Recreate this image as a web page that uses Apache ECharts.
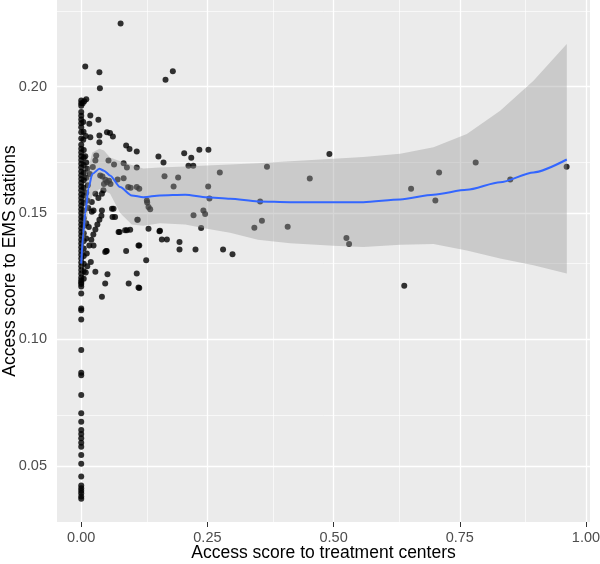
<!DOCTYPE html>
<html><head><meta charset="utf-8">
<script src="https://cdn.jsdelivr.net/npm/echarts@6/dist/echarts.min.js"></script>
<style>html,body{margin:0;padding:0;background:#fff}#c{width:600px;height:564px}</style>
</head><body><div id="c"></div>
<script>
const xTicks = [0, 0.25, 0.5, 0.75, 1.0];
const xMinor = [0.125, 0.375, 0.625, 0.875];
const yTicks = [0.05, 0.10, 0.15, 0.20];
const yMinor = [0.075, 0.125, 0.175, 0.225];

// x = access score to treatment centers, y = access score to EMS stations
const scatterPoints = [
  [0.078,0.225],[0.008,0.208],[0.036,0.2057],[0.037,0.1994],[0.1815,0.2061],[0.167,0.2028],
  [0.003,0.1935],[0.006,0.1942],[0.010,0.1950],
  [0.018,0.1886],[0.034,0.1869],[0.016,0.1853],[0.0046,0.1822],[0.018,0.180],[0.036,0.1807],
  [0.051,0.182],[0.057,0.1817],[0.0627,0.1803],[0.036,0.178],[0.089,0.1767],[0.0957,0.1754],
  [0.110,0.1744],[0.153,0.1724],[0.163,0.170],[0.204,0.1737],[0.218,0.1719],[0.234,0.1751],
  [0.252,0.1751],[0.2125,0.1687],[0.222,0.1687],[0.110,0.168],
  [0.165,0.1646],[0.192,0.1641],[0.2746,0.1661],[0.115,0.1596],[0.183,0.1605],[0.2515,0.1605],
  [0.1307,0.1542],[0.1333,0.1524],[0.1366,0.1515],[0.254,0.1558],[0.242,0.151],[0.2455,0.1496],
  [0.2225,0.1491],[0.112,0.1474],[0.358,0.147],[0.343,0.1442],[0.1333,0.1438],[0.155,0.1428],
  [0.2376,0.1441],[0.1597,0.1396],[0.1697,0.1396],[0.1947,0.1386],[0.1947,0.1356],[0.2264,0.1356],
  [0.281,0.1356],[0.2997,0.1337],[0.115,0.1372],[0.1287,0.1313],[0.115,0.1204],
  [0.368,0.1683],[0.3545,0.1546],[0.409,0.1446],[0.4917,0.1734],[0.4528,0.1637],[0.5254,0.1401],
  [0.5307,0.1378],[0.6535,0.1596],[0.709,0.1661],[0.7016,0.155],[0.7815,0.170],[0.850,0.1633],
  [0.9617,0.1683],[0.640,0.1213],
  [0.054,0.1708],[0.065,0.1692],[0.084,0.1697],[0.0905,0.168],[0.0297,0.1728],[0.028,0.1708],
  [0.023,0.1682],[0.0376,0.1649],[0.051,0.1622],[0.045,0.1615],[0.048,0.1632],[0.072,0.1633],
  [0.084,0.1638],[0.098,0.160],[0.130,0.155],[0.111,0.1474],[0.028,0.1577],[0.064,0.1517],
  [0.062,0.1485],[0.067,0.1485],[0.076,0.1425],[0.0905,0.1432],[0.097,0.1434],[0.156,0.143],
  [0.0475,0.1346],[0.1135,0.1372],[0.089,0.135],[0.0244,0.1372],[0.021,0.1505],[0.061,0.1517],
  [0.021,0.1544],[0.0244,0.151],[0.041,0.1577],[0.055,0.1628],[0.058,0.1615],[0.042,0.1645],
  [0.044,0.159],[0.034,0.156],[0.041,0.151],[0.0495,0.135],[0.093,0.1603],[0.110,0.1603],
  [0.040,0.149],[0.036,0.1474],[0.032,0.1455],[0.028,0.1435],[0.024,0.1415],[0.020,0.1395],[0.016,0.1372],
  [0.019,0.1307],[0.028,0.1268],[0.052,0.1258],[0.0475,0.1221],[0.094,0.1221],[0.110,0.1261],
  [0.041,0.1169],[0.1135,0.1206],[0.087,0.1432],[0.074,0.1425],[0.0505,0.135],
  [0,0.1945],[0,0.1935],[0,0.1925],[0,0.190],[0,0.1885],[0,0.187],[0,0.1855],[0,0.184],[0,0.182],
  [0,0.1795],[0,0.177],[0,0.1755],[0,0.174],[0,0.1725],[0,0.171],[0,0.1695],[0,0.168],[0,0.1665],
  [0,0.165],[0,0.1635],[0,0.162],[0,0.1605],[0,0.159],[0,0.1575],[0,0.156],[0,0.1545],[0,0.153],
  [0,0.1515],[0,0.150],[0,0.1485],[0,0.147],[0,0.1455],[0,0.144],[0,0.1425],[0,0.141],[0,0.1395],
  [0,0.138],[0,0.1365],[0,0.135],[0,0.1335],[0,0.132],[0,0.1305],[0,0.129],[0,0.1275],[0,0.126],
  [0,0.1245],[0,0.1234],[0,0.1225],[0,0.122],[0,0.121],[0,0.1182],[0,0.1123],[0,0.1116],[0,0.1079],
  [0,0.0958],[0,0.0868],[0,0.0859],[0,0.078],[0,0.0708],[0,0.0675],[0,0.0642],[0,0.0626],[0,0.0609],
  [0,0.0592],[0,0.0576],[0,0.0543],[0,0.0508],[0,0.0458],[0,0.0422],[0,0.0412],[0,0.0402],[0,0.0392],
  [0,0.0379],[0,0.037],
  [0.005,0.175],[0.005,0.172],[0.005,0.169],[0.005,0.166],[0.005,0.163],[0.005,0.160],[0.005,0.157],
  [0.005,0.154],[0.005,0.151],[0.005,0.148],[0.005,0.145],[0.005,0.142],[0.005,0.139],[0.005,0.136],
  [0.005,0.133],[0.005,0.130],[0.005,0.127],[0.005,0.124],
  [0.010,0.170],[0.010,0.164],[0.010,0.158],[0.010,0.146],[0.010,0.140],[0.004,0.186],[0.004,0.179],
  [0.012,0.1675],[0.013,0.161],[0.012,0.155],[0.014,0.152],[0.011,0.134],[0.012,0.129],[0.009,0.1265],
  [0.015,0.1445],[0.017,0.1655],[0.008,0.1725],[0.009,0.1805]
];

const smoothX = [0, 0.004, 0.008, 0.0145, 0.022, 0.036, 0.045, 0.057, 0.077, 0.1, 0.123, 0.156, 0.206, 0.249, 0.295, 0.35, 0.414, 0.5, 0.559, 0.632, 0.698, 0.764, 0.83, 0.896, 0.962];
const smoothY = [0.130, 0.142, 0.150, 0.160, 0.1655, 0.1675, 0.1668, 0.1649, 0.1603, 0.157, 0.1563, 0.157, 0.1573, 0.1563, 0.1557, 0.1546, 0.1543, 0.1543, 0.1543, 0.1554, 0.1573, 0.1592, 0.1622, 0.1661, 0.1712];
const bandHigh = [0.136, 0.150, 0.158, 0.168, 0.174, 0.1755, 0.1748, 0.172, 0.1705, 0.169, 0.1676, 0.168, 0.1684, 0.1688, 0.1692, 0.1697, 0.1705, 0.1715, 0.1722, 0.1735, 0.176, 0.1813, 0.1905, 0.2024, 0.2169];
const bandLow = [0.124, 0.134, 0.142, 0.152, 0.157, 0.1595, 0.1588, 0.1578, 0.150, 0.1455, 0.145, 0.146, 0.1455, 0.1438, 0.1422, 0.1395, 0.1381, 0.1371, 0.1366, 0.1375, 0.1378, 0.1352, 0.132, 0.1294, 0.1261];

const FONT = 'Liberation Sans, Arial, sans-serif';
const chart = echarts.init(document.getElementById('c'), null, {renderer: 'canvas'});

const gridLines = []
  .concat(xTicks.map(v => ({xAxis: v, lineStyle: {width: 1.3}})))
  .concat(xMinor.map(v => ({xAxis: v, lineStyle: {width: 0.65}})))
  .concat(yTicks.map(v => ({yAxis: v, lineStyle: {width: 1.3}})))
  .concat(yMinor.map(v => ({yAxis: v, lineStyle: {width: 0.65}})));

chart.setOption({
  animation: false,
  backgroundColor: '#ffffff',
  textStyle: {fontFamily: FONT},
  grid: {left: 57, right: 10, top: 0, bottom: 42, show: true, backgroundColor: '#EBEBEB', borderWidth: 0,
         containLabel: false, outerBoundsMode: 'none'},
  xAxis: {
    type: 'value', min: -0.048, max: 1.008,
    axisLine: {show: false},
    splitLine: {show: false},
    axisTick: {show: true, customValues: xTicks, length: 5, lineStyle: {color: '#333333', width: 1}},
    axisLabel: {customValues: xTicks, formatter: v => v.toFixed(2), fontSize: 14.5, color: '#4D4D4D', margin: 8, fontFamily: FONT},
    name: 'Access score to treatment centers', nameLocation: 'middle', nameGap: 22, nameMoveOverlap: false,
    nameTextStyle: {fontSize: 17.5, color: '#000000', fontFamily: FONT}
  },
  yAxis: {
    type: 'value', min: 0.0278, max: 0.2343,
    axisLine: {show: false},
    splitLine: {show: false},
    axisTick: {show: true, customValues: yTicks, length: 5, lineStyle: {color: '#333333', width: 1}},
    axisLabel: {customValues: yTicks, formatter: v => v.toFixed(2), fontSize: 14.5, color: '#4D4D4D', margin: 10, fontFamily: FONT},
    name: 'Access score to EMS stations', nameLocation: 'middle', nameGap: 38, nameMoveOverlap: false,
    nameTextStyle: {fontSize: 17.5, color: '#000000', fontFamily: FONT}
  },
  series: [
    {
      type: 'scatter', z: 2,
      data: scatterPoints,
      symbol: 'circle', symbolSize: 6,
      itemStyle: {color: '#000000'},
      emphasis: {disabled: true},
      markLine: {
        silent: true, z: 1, symbol: ['none', 'none'], animation: false,
        label: {show: false}, emphasis: {disabled: true},
        lineStyle: {color: '#ffffff', type: 'solid'},
        data: gridLines
      }
    },
    {
      type: 'custom', z: 3,
      data: smoothX.map((x, i) => [x, bandLow[i], bandHigh[i]]),
      encode: {x: 0, y: [1, 2]},
      silent: true,
      renderItem: function (params, api) {
        if (params.dataIndex !== 0) return null;
        const pts = [];
        for (let i = 0; i < smoothX.length; i++) pts.push(api.coord([smoothX[i], bandHigh[i]]));
        for (let i = smoothX.length - 1; i >= 0; i--) pts.push(api.coord([smoothX[i], bandLow[i]]));
        return {type: 'polygon', shape: {points: pts, smooth: 0}, style: {fill: 'rgba(153,153,153,0.4)'}};
      }
    },
    {
      type: 'line', z: 4,
      data: smoothX.map((x, i) => [x, smoothY[i]]),
      showSymbol: false, symbol: 'none',
      smooth: 0.25, smoothMonotone: 'x',
      lineStyle: {color: '#3366FF', width: 2},
      emphasis: {disabled: true}, silent: true
    }
  ]
});
</script>
</body></html>
